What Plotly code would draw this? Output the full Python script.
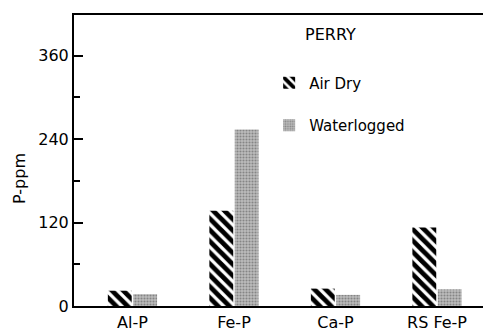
import plotly.graph_objects as go

categories = ["Al-P", "Fe-P", "Ca-P", "RS Fe-P"]
air_dry = [22, 137, 25, 113]
waterlogged = [17, 254, 16, 24]
y_ticks = [0, 120, 240, 360]
y_tick_labels = ["0", "120", "240", "360"]

FONT = "DejaVu Sans"

fig = go.Figure()
fig.add_trace(go.Bar(
    x=categories, y=air_dry, name="Air Dry", legendgroup="a",
    marker=dict(color="white", line=dict(width=0),
                pattern=dict(shape="\\", fgcolor="black", bgcolor="white",
                             size=8, solidity=0.6, fillmode="replace")),
))
fig.add_trace(go.Bar(
    x=categories, y=waterlogged, name="Waterlogged", legendgroup="b",
    marker=dict(color="#aaaaaa", line=dict(width=0),
                pattern=dict(shape=".", fgcolor="#858585", bgcolor="#bdbdbd",
                             size=3, solidity=0.4, fillmode="replace")),
))

# The page body has an 8px margin, so the figure is drawn offset by (8, 8).
fig.update_layout(
    width=491, height=331,
    margin=dict(l=66, r=8, t=5, b=33),
    paper_bgcolor="white", plot_bgcolor="white",
    barmode="group", bargap=0.5, bargroupgap=0.06,
    font=dict(family=FONT, color="black", size=15),
    showlegend=True,
    legend=dict(x=0.468, y=0.823, xanchor="left", yanchor="top",
                bgcolor="rgba(0,0,0,0)", font=dict(size=15, family=FONT),
                traceorder="grouped", tracegroupgap=20, itemwidth=30),
    annotations=[
        dict(text="PERRY", x=0.614, y=0.932, xref="paper", yref="paper",
             xanchor="center", yanchor="middle",
             showarrow=False, font=dict(size=16, family=FONT)),
        dict(text="P-ppm", x=-0.1295, y=0.44, xref="paper", yref="paper",
             xanchor="center", yanchor="middle", textangle=-90,
             showarrow=False, font=dict(size=16, family=FONT)),
    ],
)
fig.update_xaxes(
    type="category", range=[-0.576, 3.532],
    showline=True, linecolor="black", linewidth=2, mirror=True,
    ticks="", showgrid=False, zeroline=False,
    tickfont=dict(size=16, family=FONT),
    ticklabelstandoff=1,
)
fig.update_yaxes(
    range=[0, 418.6], tickmode="array", tickvals=y_ticks, ticktext=y_tick_labels,
    showline=True, linecolor="black", linewidth=2,
    ticks="inside", ticklen=9, tickwidth=2, tickcolor="black",
    minor=dict(ticks="inside", ticklen=6, tickwidth=2, tickcolor="black", dtick=60, tick0=0, showgrid=False),
    showgrid=False, zeroline=False,
    tickfont=dict(size=16, family=FONT),
)

fig.write_html("out.html")
